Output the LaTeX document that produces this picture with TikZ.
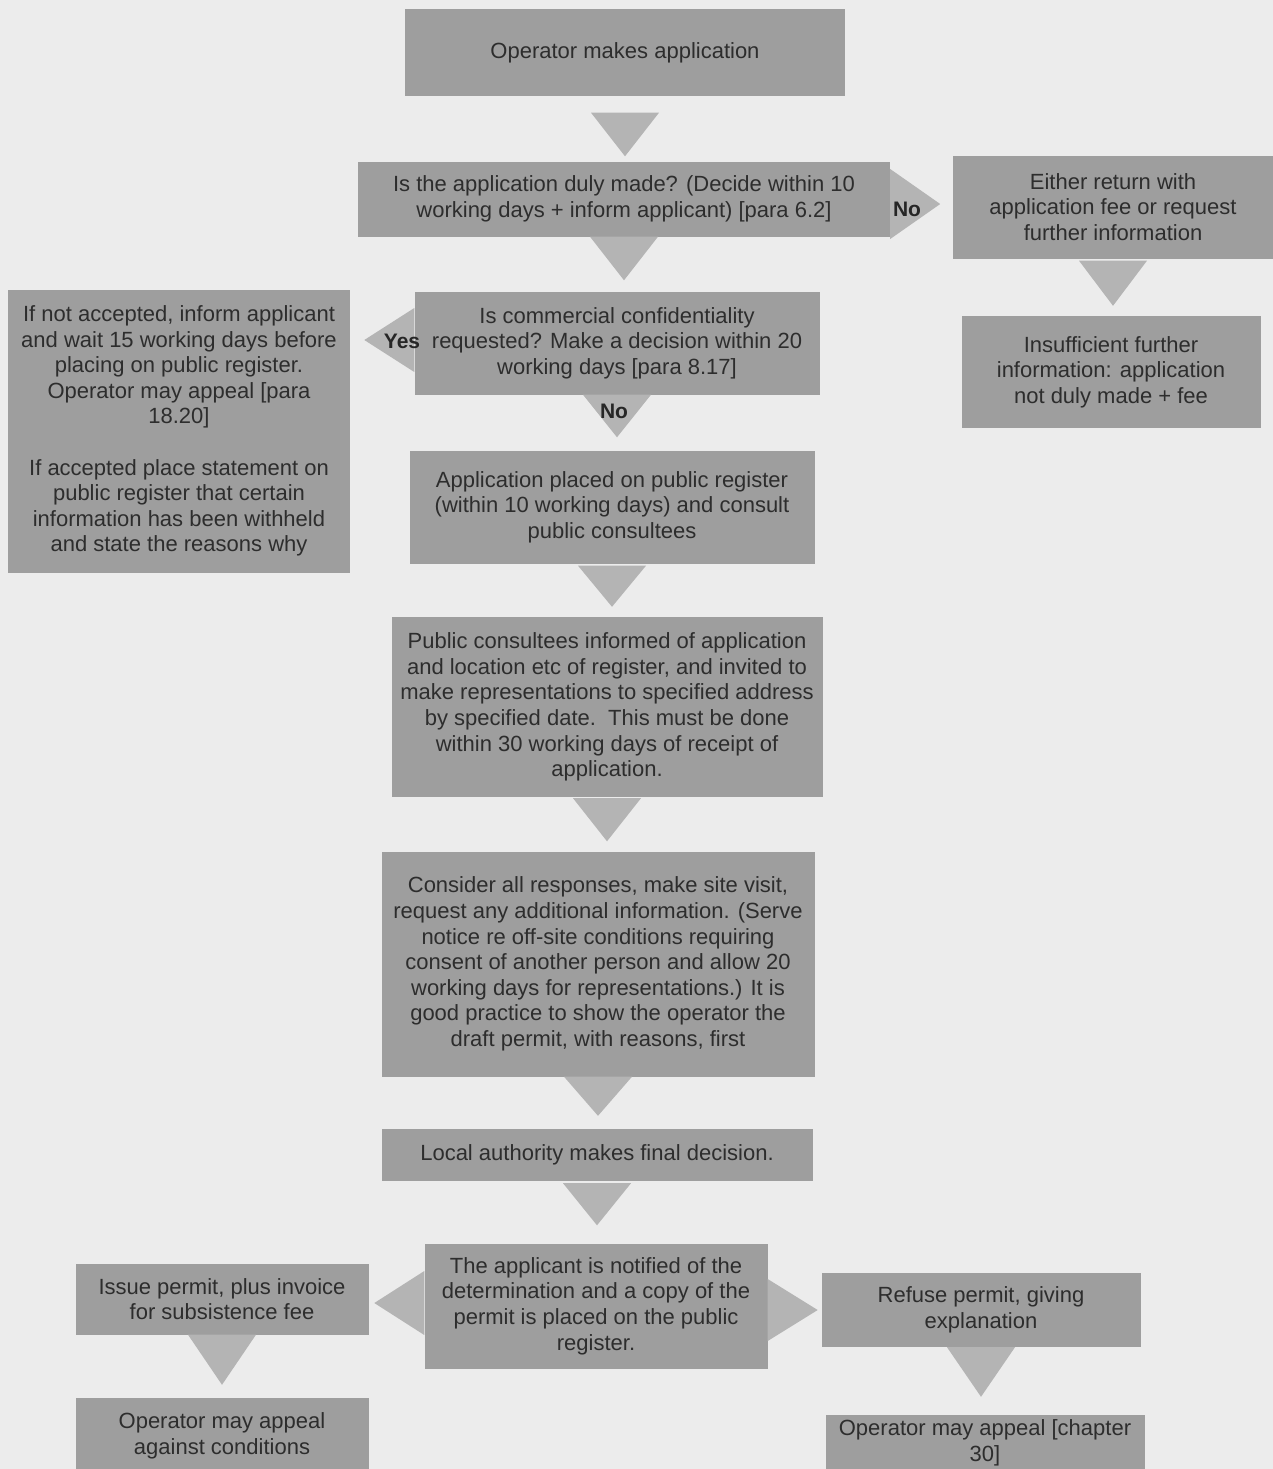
\documentclass[tikz,border=0pt]{standalone}
\usepackage{fontspec}
\setmainfont{Liberation Sans}
\usetikzlibrary{calc}
\definecolor{bg}{RGB}{236,236,236}
\definecolor{boxgray}{RGB}{158,158,158}
\definecolor{trigray}{RGB}{180,180,180}
\definecolor{txt}{RGB}{45,45,45}
% down triangle: from node, to node, top gap, apex gap
\newcommand\downtri[4]{%
  \path let \p1=(#1.south), \p2=(#2.north) in
    [fill=trigray] (\x1-34pt,\y1-#3) -- (\x1+34pt,\y1-#3) -- (\x1,\y2+#4) -- cycle;}
% side triangle: anchor, signed length, half height, vertical shift
\newcommand\sidetri[4]{%
  \path let \p1=(#1) in
    [fill=trigray] (\x1,{\y1+#3+#4}) -- ({\x1+(#2)},{\y1+#4}) -- (\x1,{\y1-#3+#4}) -- cycle;}
\begin{document}
\begin{tikzpicture}[x=1pt,y=-1pt,
  box/.style={fill=boxgray, inner sep=0pt, align=center, text=txt,
    font=\fontsize{22}{25.6}\selectfont},
  lbl/.style={font=\fontsize{21}{24}\selectfont\bfseries, text=black!85, inner sep=0pt}]
\fill[bg] (0,0) rectangle (1273,1469);
\useasboundingbox (0,0) rectangle (1273,1469);

\node[box, minimum width=440pt, minimum height=87pt] (op) at (625,53) {Operator makes application};
\node[box, minimum width=532pt, minimum height=75pt] (duly) at (624,199)
  {Is the application duly made? (Decide within 10\\working days + inform applicant) [para 6.2]};
\node[box, minimum width=320pt, minimum height=103pt] (either) at (1113,207)
  {Either return with\\application fee or request\\further information};
\node[box, minimum width=299pt, minimum height=112pt] (insuf) at (1111,372)
  {Insufficient further\\information: application\\not duly made + fee};
\node[box, minimum width=405pt, minimum height=103pt] (conf) at (617,343)
  {Is commercial confidentiality\\requested? Make a decision within 20\\working days [para 8.17]};
\node[box, minimum width=342pt, minimum height=283pt] (left) at (179,431)
  {If not accepted, inform applicant\\and wait 15 working days before\\placing on public register.\\Operator may appeal [para\\18.20]\\[25.6pt]If accepted place statement on\\public register that certain\\information has been withheld\\and state the reasons why};
\node[box, minimum width=405pt, minimum height=113pt] (placed) at (612,507)
  {Application placed on public register\\(within 10 working days) and consult\\public consultees};
\node[box, minimum width=431pt, minimum height=180pt] (pubc) at (607,707)
  {Public consultees informed of application\\and location etc of register, and invited to\\make representations to specified address\\by specified date.\ \ This must be done\\within 30 working days of receipt of\\application.};
\node[box, minimum width=433pt, minimum height=225pt] (consider) at (598,964)
  {Consider all responses, make site visit,\\request any additional information. (Serve\\notice re off-site conditions requiring\\consent of another person and allow 20\\working days for representations.) It is\\good practice to show the operator the\\draft permit, with reasons, first};
\node[box, minimum width=431pt, minimum height=52pt] (local) at (597,1155)
  {Local authority makes final decision.};
\node[box, minimum width=343pt, minimum height=125pt] (notif) at (596,1306)
  {The applicant is notified of the\\determination and a copy of the\\permit is placed on the public\\register.};
\node[box, minimum width=293pt, minimum height=71pt] (issue) at (222,1299)
  {Issue permit, plus invoice\\for subsistence fee};
\node[box, minimum width=293pt, minimum height=76pt] (appc) at (222,1436)
  {Operator may appeal\\against conditions};
\node[box, minimum width=319pt, minimum height=74pt] (refuse) at (981,1310)
  {Refuse permit, giving\\explanation};
\node[box, minimum width=319pt, minimum height=56pt] (appch) at (985,1443)
  {Operator may appeal [chapter\\30]};

% downward connectors
\downtri{op}{duly}{16pt}{5pt}
\downtri{duly}{conf}{0pt}{11pt}
\downtri{either}{insuf}{2pt}{10pt}
\downtri{conf}{placed}{0pt}{13pt}
\downtri{placed}{pubc}{2pt}{10pt}
\downtri{pubc}{consider}{1pt}{10pt}
\downtri{consider}{local}{0pt}{13pt}
\downtri{local}{notif}{2pt}{18pt}
\downtri{issue}{appc}{0pt}{13pt}
\downtri{refuse}{appch}{0pt}{18pt}

% side connectors
\sidetri{duly.east}{50pt}{35pt}{-5pt}
\sidetri{conf.west}{-50pt}{32pt}{3pt}
\sidetri{notif.west}{-50pt}{32pt}{3pt}
\sidetri{notif.east}{50pt}{31pt}{-4pt}

% labels
\node[lbl] (no1) at (907,209) {No};
\node[lbl] (yes) at (402,341) {Yes};
\node[lbl] (no2) at (614,411) {No};
\end{tikzpicture}
\end{document}
